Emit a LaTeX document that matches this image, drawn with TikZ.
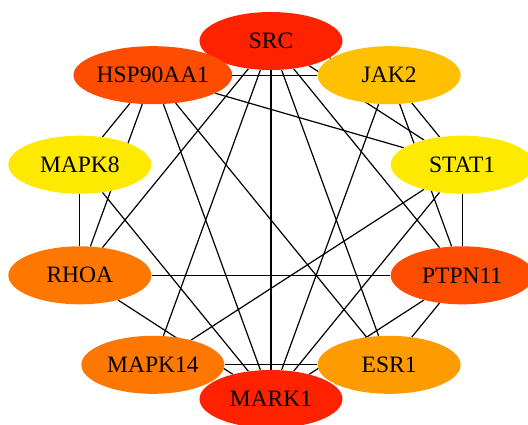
\documentclass[tikz,border=0pt]{standalone}
\usepackage{fontspec}
\setmainfont{Liberation Serif}
\usetikzlibrary{shapes.geometric, backgrounds}

\definecolor{rankA}{RGB}{254,34,0}
\definecolor{rankB}{RGB}{254,76,0}
\definecolor{rankC}{RGB}{254,119,0}
\definecolor{rankD}{RGB}{254,155,0}
\definecolor{rankE}{RGB}{254,192,0}
\definecolor{rankF}{RGB}{254,234,0}

\begin{document}
\begin{tikzpicture}[x=1pt, y=1pt]
	\tikzset{gene/.style={ellipse, draw=none, minimum width=143pt, minimum height=58pt, inner sep=0pt, font=\fontsize{23.5}{28}\selectfont}, every edge/.style={draw, line width=1.2pt}}
	\useasboundingbox (-271,-204) rectangle (257,220);

	\node[gene, fill=rankA] (src) at (90:201pt and 179pt) {SRC};
	\node[gene, fill=rankB] (hsp) at (126:201pt and 179pt) {HSP90AA1};
	\node[gene, fill=rankE] (jak) at (54:201pt and 179pt) {JAK2};
	\node[gene, fill=rankF] (mapkviii) at (162:201pt and 179pt) {MAPK8};
	\node[gene, fill=rankF] (stat) at (18:201pt and 179pt) {STAT1};
	\node[gene, fill=rankC] (rhoa) at (-162:201pt and 179pt) {RHOA};
	\node[gene, fill=rankB] (ptpn) at (-18:201pt and 179pt) {PTPN11};
	\node[gene, fill=rankC] (mapkxiv) at (-126:201pt and 179pt) {MAPK14};
	\node[gene, fill=rankD] (esr) at (-54:201pt and 179pt) {ESR1};
	\node[gene, fill=rankA] (mark) at (-90:201pt and 179pt) {MARK1};

	\begin{pgfonlayer}{background}
	\draw
		(src) edge (hsp)
		(src) edge (jak)
		(src) edge (stat)
		(src) edge (ptpn)
		(src) edge (esr)
		(src) edge (mark)
		(src) edge (mapkxiv)
		(src) edge (rhoa)
		(hsp) edge (jak)
		(hsp) edge (stat)
		(hsp) edge (esr)
		(hsp) edge (mark)
		(hsp) edge (rhoa)
		(hsp) edge (mapkviii)
		(jak) edge (stat)
		(jak) edge (ptpn)
		(jak) edge (mark)
		(mapkviii) edge (rhoa)
		(mapkviii) edge (mark)
		(stat) edge (ptpn)
		(stat) edge (mark)
		(stat) edge (mapkxiv)
		(rhoa) edge (ptpn)
		(rhoa) edge (mark)
		(ptpn) edge (esr)
		(ptpn) edge (mark)
		(mapkxiv) edge (esr);
	\end{pgfonlayer}
\end{tikzpicture}
\end{document}
